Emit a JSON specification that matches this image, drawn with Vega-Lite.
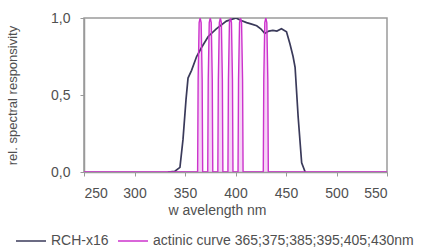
{
  "$schema": "https://vega.github.io/schema/vega-lite/v6.json",
  "width": 303,
  "height": 154,
  "autosize": {"type": "none"},
  "padding": {"left": 84, "top": 18, "right": 51, "bottom": 76},
  "background": "white",
  "datasets": {
    "rch": [
      {"wl": 333, "r": 0}, {"wl": 340, "r": 0.005}, {"wl": 345, "r": 0.03}, {"wl": 348, "r": 0.21},
      {"wl": 351, "r": 0.47}, {"wl": 353, "r": 0.61}, {"wl": 356.5, "r": 0.66}, {"wl": 361.5, "r": 0.75},
      {"wl": 366.5, "r": 0.81}, {"wl": 373, "r": 0.88}, {"wl": 381, "r": 0.93}, {"wl": 391, "r": 0.98},
      {"wl": 400.5, "r": 1.0}, {"wl": 405, "r": 0.985}, {"wl": 411, "r": 0.97}, {"wl": 416, "r": 0.96}, {"wl": 421, "r": 0.95},
      {"wl": 425, "r": 0.93}, {"wl": 429, "r": 0.9}, {"wl": 433, "r": 0.915}, {"wl": 437, "r": 0.92}, {"wl": 441, "r": 0.915}, {"wl": 445.5, "r": 0.93},
      {"wl": 450.5, "r": 0.91}, {"wl": 454, "r": 0.83}, {"wl": 457, "r": 0.75}, {"wl": 459, "r": 0.68}, {"wl": 462, "r": 0.36},
      {"wl": 465.5, "r": 0.06}, {"wl": 469, "r": 0}
    ],
    "act": [
      {"wl": 250, "r": 0},
      {"wl": 362.5, "r": 0}, {"wl": 363, "r": 0.6}, {"wl": 364, "r": 0.97}, {"wl": 365, "r": 1.0}, {"wl": 366, "r": 0.97}, {"wl": 367, "r": 0.6}, {"wl": 367.5, "r": 0},
      {"wl": 372.5, "r": 0}, {"wl": 373, "r": 0.6}, {"wl": 374, "r": 0.97}, {"wl": 375, "r": 1.0}, {"wl": 376, "r": 0.97}, {"wl": 377, "r": 0.6}, {"wl": 377.5, "r": 0},
      {"wl": 382.5, "r": 0}, {"wl": 383, "r": 0.6}, {"wl": 384, "r": 0.97}, {"wl": 385, "r": 1.0}, {"wl": 386, "r": 0.97}, {"wl": 387, "r": 0.6}, {"wl": 387.5, "r": 0},
      {"wl": 392.5, "r": 0}, {"wl": 393, "r": 0.6}, {"wl": 394, "r": 0.97}, {"wl": 395, "r": 1.0}, {"wl": 396, "r": 0.97}, {"wl": 397, "r": 0.6}, {"wl": 397.5, "r": 0},
      {"wl": 402.5, "r": 0}, {"wl": 403, "r": 0.6}, {"wl": 404, "r": 0.97}, {"wl": 405, "r": 1.0}, {"wl": 406, "r": 0.97}, {"wl": 407, "r": 0.6}, {"wl": 407.5, "r": 0},
      {"wl": 427.5, "r": 0}, {"wl": 428, "r": 0.6}, {"wl": 429, "r": 0.97}, {"wl": 430, "r": 1.0}, {"wl": 431, "r": 0.97}, {"wl": 432, "r": 0.6}, {"wl": 432.5, "r": 0},
      {"wl": 550, "r": 0}
    ]
  },
  "layer": [
    {
      "data": {"name": "act"},
      "mark": {"type": "area", "color": "#f2c0f2", "opacity": 0.7, "clip": true},
      "encoding": {
        "x": {"field": "wl", "type": "quantitative"},
        "y": {"field": "r", "type": "quantitative"}
      }
    },
    {
      "data": {"name": "rch"},
      "mark": {"type": "line", "strokeWidth": 1.7, "clip": true},
      "encoding": {
        "x": {"field": "wl", "type": "quantitative"},
        "y": {"field": "r", "type": "quantitative"},
        "color": {"datum": "RCH-x16", "scale": {"domain": ["RCH-x16", "actinic curve 365;375;385;395;405;430nm"], "range": ["#3a3a5a", "#cc33cc"]}}
      }
    },
    {
      "data": {"name": "act"},
      "mark": {"type": "line", "strokeWidth": 1.4, "clip": true},
      "encoding": {
        "x": {"field": "wl", "type": "quantitative"},
        "y": {"field": "r", "type": "quantitative"},
        "color": {"datum": "actinic curve 365;375;385;395;405;430nm"}
      }
    }
  ],
  "encoding": {
    "x": {"field": "wl", "type": "quantitative", "scale": {"domain": [250, 550], "nice": false, "zero": false}, "axis": {"values": [250, 300, 350, 400, 450, 500, 550], "title": "w avelength nm", "titleX": 133, "titleY": 38, "titleBaseline": "middle", "titleAnchor": "middle", "titleAlign": "center"}},
    "y": {"field": "r", "type": "quantitative", "scale": {"domain": [0, 1], "nice": false}, "axis": {"values": [0, 0.5, 1], "labelExpr": "replace(format(datum.value, '.1f'), '.', ',')", "title": "rel. spectral responsivity", "titleX": -72, "titleY": 77, "titleAngle": -90, "titleBaseline": "middle", "titleAlign": "center", "titleFontSize": 13}}
  },
  "config": {
    "font": "Liberation Sans",
    "view": {"stroke": "#9a9a9a", "strokeWidth": 1.5},
    "axis": {"labelFont": "Liberation Sans", "titleFont": "Liberation Sans", "labelColor": "#505050", "titleColor": "#505050", "labelFontSize": 14, "titleFontSize": 14, "titleFontWeight": "normal", "domainColor": "#9a9a9a", "tickColor": "#9a9a9a", "domainWidth": 1.5, "grid": false, "tickSize": 4, "labelPadding": 10},
    "legend": {"title": null, "orient": "none", "legendX": -69, "legendY": 207, "direction": "horizontal", "symbolType": "stroke", "symbolSize": 900, "symbolStrokeWidth": 1.5, "labelFontSize": 14, "labelColor": "#505050", "labelFont": "Liberation Sans", "labelOffset": 4, "columnPadding": 6, "labelLimit": 400}
  }
}
